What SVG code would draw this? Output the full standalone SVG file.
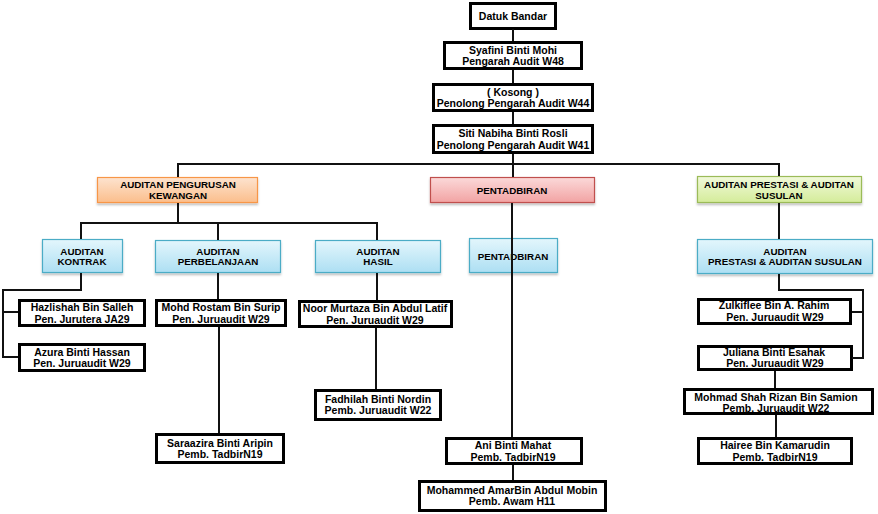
<svg xmlns="http://www.w3.org/2000/svg" width="878" height="514" viewBox="0 0 878 514">
<defs>
<linearGradient id="gBlue" x1="0" y1="0" x2="0" y2="1"><stop offset="0" stop-color="#e3f6fc"/><stop offset="1" stop-color="#addff3"/></linearGradient>
<linearGradient id="gOrange" x1="0" y1="0" x2="0" y2="1"><stop offset="0" stop-color="#fde3cf"/><stop offset="1" stop-color="#fbbe8c"/></linearGradient>
<linearGradient id="gRed" x1="0" y1="0" x2="0" y2="1"><stop offset="0" stop-color="#fbd9d9"/><stop offset="1" stop-color="#f2a3a3"/></linearGradient>
<linearGradient id="gGreen" x1="0" y1="0" x2="0" y2="1"><stop offset="0" stop-color="#f1f9da"/><stop offset="1" stop-color="#d4ec9a"/></linearGradient>
<filter id="sh" x="-10%" y="-20%" width="120%" height="150%"><feDropShadow dx="0" dy="2" stdDeviation="1.2" flood-color="#000" flood-opacity="0.25"/></filter>
</defs>
<style>
.b{fill:#fff;stroke:#000;stroke-width:3}
.cb{stroke:#4bacc6;stroke-width:1.2;fill:url(#gBlue);filter:url(#sh)}
.co{stroke:#f79646;stroke-width:1.2;fill:url(#gOrange);filter:url(#sh)}
.cr{stroke:#c0504d;stroke-width:1.2;fill:url(#gRed);filter:url(#sh)}
.cg{stroke:#9bbb59;stroke-width:1.2;fill:url(#gGreen);filter:url(#sh)}
text{font-family:"Liberation Sans",Arial,sans-serif;font-weight:bold;text-anchor:middle;fill:#000}
.t{font-size:10.5px}
.h{font-size:9.8px}
.c{fill:none;stroke:#111;stroke-width:2}
</style>
<g id="n-datuk"><rect class="b" x="470.5" y="3.5" width="85" height="25"/><text class="t" x="513" y="19.5">Datuk Bandar</text></g>
<g id="n-syafini"><rect class="b" x="444.5" y="42.5" width="137" height="26"/><text class="t" x="513"><tspan x="513" y="53.5">Syafini Binti Mohi</tspan><tspan x="513" y="65">Pengarah Audit W48</tspan></text></g>
<g id="n-kosong"><rect class="b" x="433.5" y="84.5" width="159" height="26"/><text class="t"><tspan x="513" y="95.5">( Kosong )</tspan><tspan x="513" y="107">Penolong Pengarah Audit W44</tspan></text></g>
<g id="n-siti"><rect class="b" x="433.5" y="125.5" width="159" height="27"/><text class="t"><tspan x="513" y="137">Siti Nabiha Binti Rosli</tspan><tspan x="513" y="148.5">Penolong Pengarah Audit W41</tspan></text></g>
<g id="n-kewangan"><rect class="co" x="97.5" y="177.5" width="160" height="25"/><text class="h"><tspan x="178" y="188">AUDITAN PENGURUSAN</tspan><tspan x="178" y="199">KEWANGAN</tspan></text></g>
<g id="n-pentadbiran"><rect class="cr" x="430.5" y="177.5" width="164" height="25"/><text class="h" x="512" y="193.5">PENTADBIRAN</text></g>
<g id="n-prestasi"><rect class="cg" x="697.5" y="176.5" width="164" height="26"/><text class="h"><tspan x="779" y="188">AUDITAN PRESTASI &amp; AUDITAN</tspan><tspan x="779" y="199">SUSULAN</tspan></text></g>
<g id="n-kontrak"><rect class="cb" x="42.5" y="239.5" width="80" height="33"/><text class="h"><tspan x="82" y="254.5">AUDITAN</tspan><tspan x="82" y="265">KONTRAK</tspan></text></g>
<g id="n-perbelanjaan"><rect class="cb" x="155.5" y="240.5" width="125" height="32"/><text class="h"><tspan x="218" y="254.5">AUDITAN</tspan><tspan x="218" y="265">PERBELANJAAN</tspan></text></g>
<g id="n-hasil"><rect class="cb" x="315.5" y="240.5" width="125" height="32"/><text class="h"><tspan x="378" y="254.5">AUDITAN</tspan><tspan x="378" y="265">HASIL</tspan></text></g>
<g id="n-pentadbiran2"><rect class="cb" x="469.5" y="238.5" width="88" height="34"/><text class="h" x="513" y="259.5">PENTADBIRAN</text></g>
<g id="n-prestasi2"><rect class="cb" x="697.5" y="239.5" width="175" height="34"/><text class="h"><tspan x="785" y="254.5">AUDITAN</tspan><tspan x="785" y="265">PRESTASI &amp; AUDITAN SUSULAN</tspan></text></g>
<g id="n-hazlishah"><rect class="b" x="19.5" y="300.5" width="125" height="25"/><text class="t"><tspan x="82" y="311">Hazlishah Bin Salleh</tspan><tspan x="82" y="322.5">Pen. Jurutera JA29</tspan></text></g>
<g id="n-azura"><rect class="b" x="19.5" y="344.5" width="125" height="26"/><text class="t"><tspan x="82" y="355.5">Azura Binti Hassan</tspan><tspan x="82" y="367">Pen. Juruaudit W29</tspan></text></g>
<g id="n-rostam"><rect class="b" x="156.5" y="300.5" width="129" height="25"/><text class="t"><tspan x="221" y="311">Mohd Rostam Bin Surip</tspan><tspan x="221" y="322.5">Pen. Juruaudit W29</tspan></text></g>
<g id="n-saraazira"><rect class="b" x="156.5" y="434.5" width="127" height="28"/><text class="t"><tspan x="220" y="446.5">Saraazira Binti Aripin</tspan><tspan x="220" y="458">Pemb. TadbirN19</tspan></text></g>
<g id="n-noor"><rect class="b" x="299.5" y="301.5" width="152" height="25"/><text class="t"><tspan x="375" y="312">Noor Murtaza Bin Abdul Latif</tspan><tspan x="375" y="323.5">Pen. Juruaudit W29</tspan></text></g>
<g id="n-fadhilah"><rect class="b" x="315.5" y="390.5" width="125" height="29"/><text class="t"><tspan x="378" y="402.5">Fadhilah Binti Nordin</tspan><tspan x="378" y="414">Pemb. Juruaudit W22</tspan></text></g>
<g id="n-ani"><rect class="b" x="446.5" y="438.5" width="135" height="25"/><text class="t"><tspan x="513" y="449">Ani Binti Mahat</tspan><tspan x="513" y="460.5">Pemb. TadbirN19</tspan></text></g>
<g id="n-mohammed"><rect class="b" x="419.5" y="481.5" width="186" height="29"/><text class="t"><tspan x="512" y="493.5">Mohammed AmarBin Abdul Mobin</tspan><tspan x="512" y="505">Pemb. Awam H11</tspan></text></g>
<g id="n-zulkiflee"><rect class="b" x="698.5" y="299.5" width="152" height="24"/><text class="t"><tspan x="774" y="309">Zulkiflee Bin A. Rahim</tspan><tspan x="775" y="320.5">Pen. Juruaudit W29</tspan></text></g>
<g id="n-juliana"><rect class="b" x="698.5" y="346.5" width="153" height="23"/><text class="t"><tspan x="774" y="355.5">Juliana Binti Esahak</tspan><tspan x="775" y="366.5">Pen. Juruaudit W29</tspan></text></g>
<g id="n-mohmad"><rect class="b" x="684.5" y="389.5" width="188" height="24"/><text class="t"><tspan x="776" y="401">Mohmad Shah Rizan Bin Samion</tspan><tspan x="776" y="412">Pemb. Juruaudit W22</tspan></text></g>
<g id="n-hairee"><rect class="b" x="698.5" y="438.5" width="153" height="25"/><text class="t"><tspan x="775" y="449">Hairee Bin Kamarudin</tspan><tspan x="775" y="460.5">Pemb. TadbirN19</tspan></text></g>
<g id="connectors">
<path class="c" d="M513,29V41M513,70V83M513,112V124M513,154V177M512,203V437M513,465V480"/>
<path class="c" d="M178,177V164H779V176"/>
<path class="c" d="M178,203V223M81,239V223H377V240M218,223V240"/>
<path class="c" d="M81,273V290H3V357H18M3,312H18"/>
<path class="c" d="M218,273V299M219,327V433"/>
<path class="c" d="M377,273V300M376,328V389"/>
<path class="c" d="M779,203V239M779,274V290H863V358H852M852,312H863"/>
<path class="c" d="M775,371V388M776,415V437"/>
</g>
</svg>
